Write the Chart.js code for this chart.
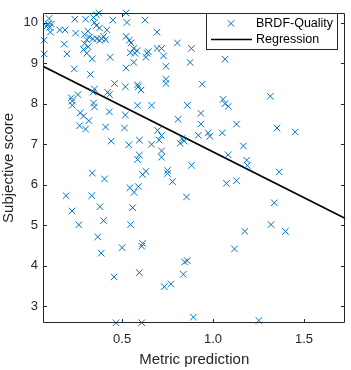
<!DOCTYPE html>
<html>
<head>
<meta charset="utf-8">
<title>BRDF-Quality</title>
<script src="https://cdn.jsdelivr.net/npm/chart.js"></script>
<style>
  html, body { margin: 0; padding: 0; background: #fff; }
</style>
</head>
<body>
<canvas id="chart" width="351" height="370"></canvas>
<script>
// metric prediction (x) and subjective score (y)
var metricX = [
  0.372, 0.358, 0.098, 0.240, 0.299, 0.343, 0.348, 0.358, 0.449, 0.093,
  0.111, 0.084, 0.102, 0.106, 0.157, 0.186, 0.244, 0.312, 0.294, 0.376,
  0.416, 0.321, 0.339, 0.361, 0.376, 0.387, 0.398, 0.409, 0.306, 0.071,
  0.182, 0.294, 0.288, 0.314, 0.306, 0.071, 0.197, 0.336, 0.434, 0.237,
  0.522, 0.527, 0.626, 0.692, 0.522, 0.540, 0.549, 0.804, 0.564, 0.545,
  0.582, 0.571, 0.644, 0.637, 0.631, 0.692, 0.717, 0.728, 0.564, 0.741,
  0.522, 0.881, 0.874, 1.066, 0.326, 0.348, 0.340, 0.458, 0.421, 0.430,
  0.221, 0.257, 0.226, 0.226, 0.343, 0.348, 0.270, 0.288, 0.317, 0.430,
  0.266, 0.299, 0.409, 0.440, 0.336, 0.403, 0.518, 0.585, 0.589, 0.604,
  0.741, 0.741, 0.518, 0.585, 0.662, 0.808, 0.513, 0.695, 0.717, 0.704,
  0.595, 0.537, 0.662, 0.717, 0.717, 0.595, 0.585, 0.631, 0.613, 0.750,
  0.750, 0.777, 0.941, 0.859, 0.933, 0.933, 0.830, 0.819, 0.841, 0.919,
  0.974, 0.982, 0.882, 1.055, 1.066, 1.084, 1.315, 1.129, 1.051, 1.352,
  1.452, 1.167, 1.083, 1.185, 1.189, 1.364, 1.074, 1.129, 1.337, 0.854,
  1.319, 1.398, 1.175, 1.118, 0.844, 0.858, 0.837, 0.768, 0.732, 0.892,
  1.252, 0.608, 0.466, 0.543, 0.589, 0.566, 0.558, 0.547, 0.613, 0.608,
  0.595, 0.192, 0.333, 0.378, 0.225, 0.398, 0.262, 0.366, 0.500, 0.385,
  0.456
];
var scoreY = [
  10.235, 10.195, 10.099, 10.082, 10.082, 10.123, 10.002, 9.923, 10.058, 9.962,
  9.962, 9.899, 9.882, 9.762, 9.817, 9.817, 9.738, 9.786, 9.706, 9.865,
  9.817, 9.641, 9.601, 9.601, 9.562, 9.601, 9.658, 9.577, 9.577, 9.562,
  9.466, 9.480, 9.336, 9.401, 9.240, 9.225, 9.225, 9.105, 9.143, 8.855,
  10.235, 10.002, 10.058, 9.762, 9.658, 9.562, 9.497, 9.497, 9.360, 9.257,
  9.305, 9.240, 9.281, 9.240, 9.143, 9.360, 9.360, 9.177, 9.016, 8.920,
  8.879, 9.360, 9.016, 9.095, 8.720, 8.359, 8.282, 8.494, 8.277, 8.222,
  8.142, 8.222, 8.061, 7.957, 8.013, 7.916, 7.772, 7.692, 7.579, 7.796,
  7.452, 7.372, 7.421, 7.074, 6.285, 6.141, 8.414, 8.462, 8.414, 8.335,
  8.600, 8.494, 7.717, 7.957, 7.957, 7.613, 7.397, 7.339, 7.211, 7.098,
  7.098, 6.983, 6.995, 6.834, 6.675, 6.730, 6.617, 6.328, 6.249, 6.352,
  6.273, 6.073, 8.479, 7.957, 7.758, 7.493, 7.139, 7.019, 7.074, 7.218,
  7.276, 7.195, 6.477, 8.102, 7.998, 7.933, 8.181, 7.493, 7.276, 7.396,
  7.300, 6.954, 6.737, 6.603, 6.473, 6.314, 6.032, 6.097, 5.551, 5.695,
  5.014, 4.846, 4.846, 4.413, 4.091, 4.124, 3.787, 3.547, 3.482, 2.729,
  2.647, 2.592, 2.590, 5.924, 5.953, 5.809, 5.431, 5.014, 4.548, 4.480,
  3.826, 5.727, 5.727, 5.455, 5.351, 5.111, 5.010, 4.709, 4.444, 4.307,
  3.722
];

// regression line end points
var regX = [0.065, 1.728];
var regY = [8.92, 5.166];

var xTicks = [0.5, 1, 1.5];
var yTicks = [3, 4, 5, 6, 7, 8, 9, 10];
var seriesNames = ['BRDF-Quality', 'Regression'];

var blue = '#0072BD';
var axisColor = '#262626';
var fontFamily = '"Liberation Sans", Arial, Helvetica, sans-serif';

Chart.defaults.font.family = fontFamily;
Chart.defaults.color = axisColor;

var points = metricX.map(function (x, i) { return { x: x, y: scoreY[i] }; });
var regLine = regX.map(function (x, i) { return { x: x, y: regY[i] }; });

// axes box with inward ticks on all four sides
var boxPlugin = {
    id: 'box',
    afterDatasetsDraw: function (chart) {
        var ctx = chart.ctx;
        var a = chart.chartArea;
        var xs = chart.scales.x, ys = chart.scales.y;
        var l = Math.round(a.left) + 0.5, r = Math.round(a.right) - 0.5;
        var t = Math.round(a.top) + 0.5, b = Math.round(a.bottom) - 0.5;
        var len = 3.5;
        ctx.save();
        ctx.strokeStyle = axisColor;
        ctx.lineWidth = 1;
        ctx.beginPath();
        ctx.rect(l, t, r - l, b - t);
        xTicks.forEach(function (v) {
            var px = Math.round(xs.getPixelForValue(v)) + 0.5;
            ctx.moveTo(px, b); ctx.lineTo(px, b - len);
            ctx.moveTo(px, t); ctx.lineTo(px, t + len);
        });
        yTicks.forEach(function (v) {
            var py = Math.round(ys.getPixelForValue(v)) + 0.5;
            ctx.moveTo(l, py); ctx.lineTo(l + len, py);
            ctx.moveTo(r, py); ctx.lineTo(r - len, py);
        });
        ctx.stroke();
        ctx.restore();
    },
    afterDraw: function (chart) {
        // legend box in the top right corner
        var ctx = chart.ctx;
        var bx = 206.5, by = 13.5, bw = 131, bh = 36;
        ctx.save();
        ctx.fillStyle = '#fff';
        ctx.fillRect(bx, by, bw, bh);
        ctx.strokeStyle = axisColor;
        ctx.lineWidth = 1;
        ctx.strokeRect(bx, by, bw, bh);

        var ds = chart.data.datasets;
        // scatter entry
        var mx = 231, my = 23.5, d = 3.2;
        ctx.strokeStyle = ds[0].borderColor;
        ctx.lineWidth = 1;
        ctx.beginPath();
        ctx.moveTo(mx - d, my - d); ctx.lineTo(mx + d, my + d);
        ctx.moveTo(mx + d, my - d); ctx.lineTo(mx - d, my + d);
        ctx.stroke();
        // line entry
        ctx.strokeStyle = ds[1].borderColor;
        ctx.lineWidth = ds[1].borderWidth;
        ctx.beginPath();
        ctx.moveTo(211, 39.5); ctx.lineTo(252, 39.5);
        ctx.stroke();

        ctx.fillStyle = '#000';
        ctx.font = '12.5px ' + fontFamily;
        ctx.textAlign = 'left';
        ctx.textBaseline = 'middle';
        ctx.fillText(ds[0].label, 256, 23.5);
        ctx.fillText(ds[1].label, 256, 39.5);
        ctx.restore();
    }
};

var ctx = document.getElementById('chart').getContext('2d');
var chart = new Chart(ctx, {
    type: 'scatter',
    data: {
        datasets: [{
            label: seriesNames[0],
            data: points,
            pointStyle: 'crossRot',
            pointRadius: 4.6,
            pointHoverRadius: 4.6,
            borderColor: blue,
            backgroundColor: blue,
            borderWidth: 1,
            clip: false
        }, {
            type: 'line',
            label: seriesNames[1],
            data: regLine,
            borderColor: '#000',
            borderWidth: 1.6,
            pointRadius: 0,
            fill: false
        }]
    },
    options: {
        responsive: false,
        animation: false,
        layout: { padding: { top: 5, right: 4, left: 0, bottom: 0 } },
        plugins: {
            legend: { display: false },
            tooltip: { enabled: false }
        },
        scales: {
            x: {
                type: 'linear',
                min: 0.065,
                max: 1.728,
                afterBuildTicks: function (scale) {
                    scale.ticks = xTicks.map(function (v) { return { value: v }; });
                },
                afterFit: function (scale) { scale.height = 47; },
                grid: { display: false, drawTicks: false },
                border: { display: false },
                ticks: {
                    padding: 9,
                    color: axisColor,
                    font: { size: 13 },
                    maxRotation: 0
                },
                title: {
                    display: true,
                    text: 'Metric prediction',
                    color: axisColor,
                    font: { size: 15 },
                    padding: { top: 0, bottom: 1.3 }
                }
            },
            y: {
                type: 'linear',
                min: 2.585,
                max: 10.24,
                afterBuildTicks: function (scale) {
                    scale.ticks = yTicks.map(function (v) { return { value: v }; });
                },
                afterFit: function (scale) { scale.width = 43; },
                grid: { display: false, drawTicks: false },
                border: { display: false },
                ticks: {
                    padding: 5,
                    color: axisColor,
                    font: { size: 13 }
                },
                title: {
                    display: true,
                    text: 'Subjective score',
                    color: axisColor,
                    font: { size: 15 },
                    padding: { top: 0, bottom: 0 }
                }
            }
        }
    },
    plugins: [boxPlugin]
});
</script>
</body>
</html>
